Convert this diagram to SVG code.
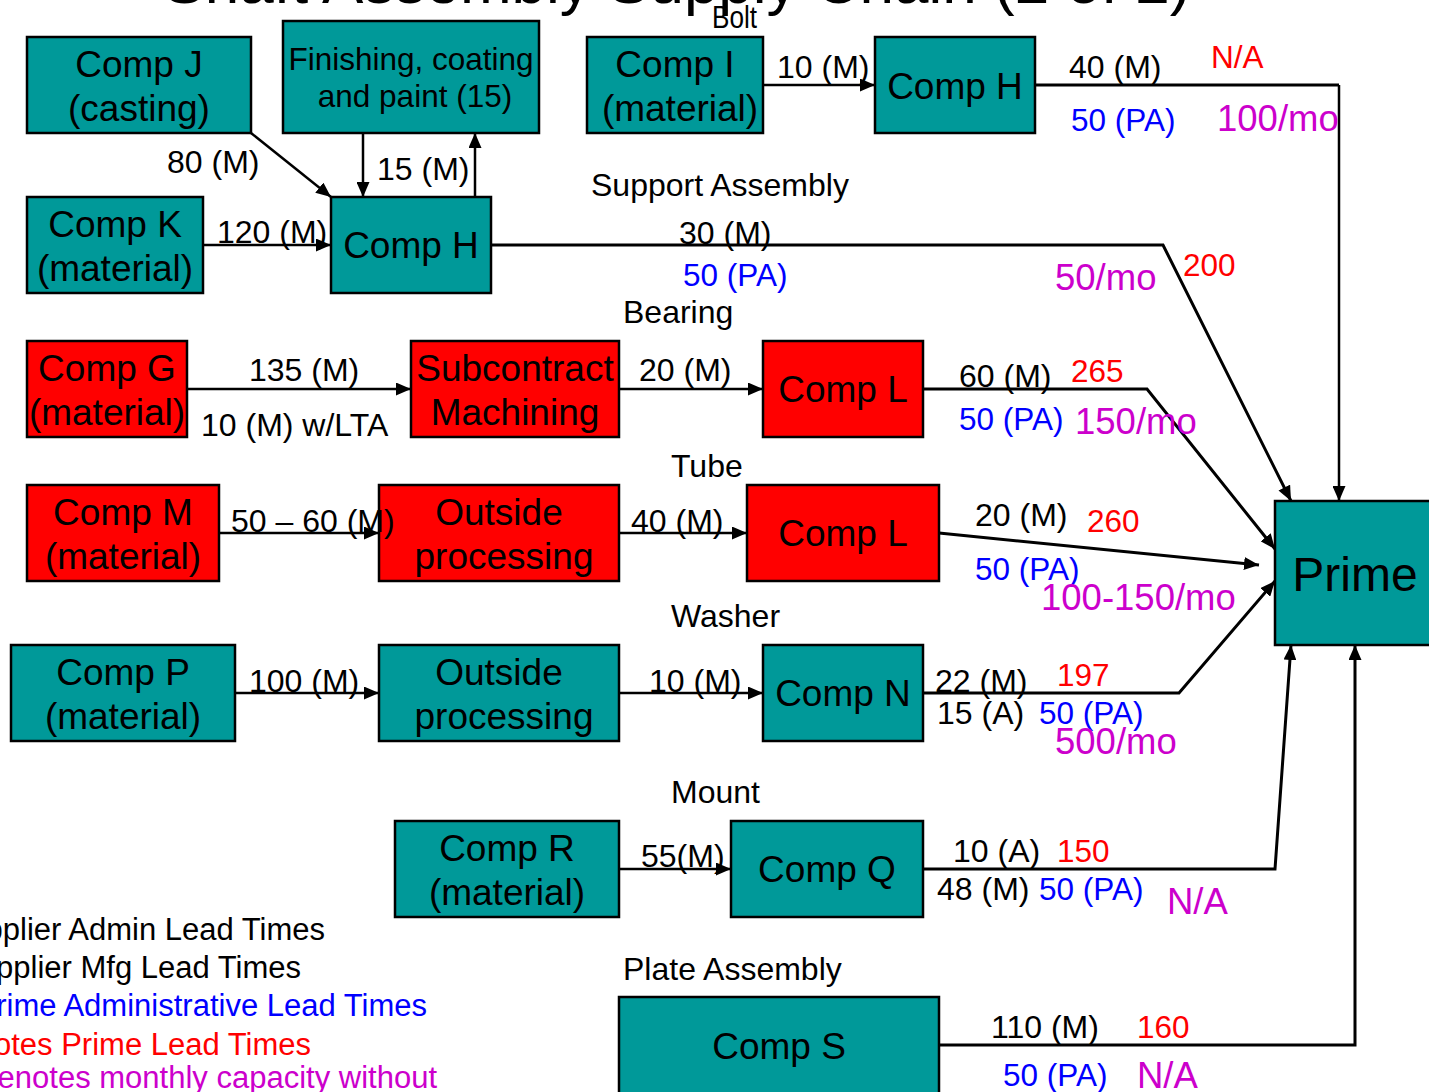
<svg xmlns="http://www.w3.org/2000/svg" width="1429" height="1092" viewBox="0 0 1429 1092">
  <defs>
    <marker id="arrow" viewBox="0 0 15 13" refX="15" refY="6.5" markerWidth="15" markerHeight="13" markerUnits="userSpaceOnUse" orient="auto">
      <path d="M0,0 L15,6.5 L0,13 Z" fill="#000"/>
    </marker>
    <style>
      text { font-family: "Liberation Sans", Arial, sans-serif; }
      .box-teal { fill: #009999; stroke: #000; stroke-width: 2.5; }
      .box-red { fill: #FF0000; stroke: #000; stroke-width: 2.5; }
      .node { font-size: 37px; fill: #000; text-anchor: middle; }
      .small-node { font-size: 31.5px; fill: #000; text-anchor: middle; }
      .prime { font-size: 48px; fill: #000; text-anchor: middle; }
      .group { font-size: 32px; fill: #000; }
      .lbl { font-size: 32px; fill: #000; }
      .pa { font-size: 31.5px; fill: #0000FF; }
      .lead { font-size: 31.5px; fill: #FF0000; }
      .cap { font-size: 36.5px; fill: #CC00CC; }
      .edge { fill: none; stroke: #000; stroke-width: 2.5; }
      .edge-bold { fill: none; stroke: #000; stroke-width: 3; }
      .arr { marker-end: url(#arrow); }
    </style>
  </defs>

  <!-- page title -->
  <text x="677" y="3" font-size="62" text-anchor="middle" fill="#000">Shaft Assembly Supply Chain (2 of 2)</text>

  <!-- sub-assembly headings -->
  <g id="headings">
    <text class="group" x="712" y="28" font-size="28" textLength="45" lengthAdjust="spacingAndGlyphs">Bolt</text>
    <text class="group" x="591" y="196">Support Assembly</text>
    <text class="group" x="623" y="323">Bearing</text>
    <text class="group" x="671" y="477">Tube</text>
    <text class="group" x="671" y="627">Washer</text>
    <text class="group" x="671" y="803">Mount</text>
    <text class="group" x="623" y="980">Plate Assembly</text>
  </g>

  <!-- connectors -->
  <g id="connectors">
    <line class="edge arr" x1="251" y1="133" x2="331" y2="197"/>
    <line class="edge arr" x1="363" y1="133" x2="363" y2="197"/>
    <line class="edge arr" x1="475" y1="197" x2="475" y2="133"/>
    <line class="edge arr" x1="203" y1="245" x2="331" y2="245"/>
    <line class="edge arr" x1="763" y1="85" x2="875" y2="85"/>
    <polyline class="edge-bold" points="1035,85 1339,85"/>
    <line class="edge arr" x1="1339" y1="85" x2="1339" y2="501"/>
    <polyline class="edge-bold arr" points="491,245 1163,245 1291,501"/>
    <line class="edge arr" x1="187" y1="389" x2="411" y2="389"/>
    <line class="edge arr" x1="619" y1="389" x2="763" y2="389"/>
    <polyline class="edge-bold arr" points="923,389 1147,389 1275,549"/>
    <line class="edge arr" x1="219" y1="533" x2="379" y2="533"/>
    <line class="edge arr" x1="619" y1="533" x2="747" y2="533"/>
    <line class="edge-bold arr" x1="939" y1="533" x2="1259" y2="565"/>
    <line class="edge arr" x1="235" y1="693" x2="379" y2="693"/>
    <line class="edge arr" x1="619" y1="693" x2="763" y2="693"/>
    <polyline class="edge-bold arr" points="923,693 1179,693 1275,581"/>
    <line class="edge arr" x1="619" y1="869" x2="731" y2="869"/>
    <polyline class="edge-bold arr" points="923,869 1275,869 1291,645"/>
    <polyline class="edge-bold arr" points="939,1045 1355,1045 1355,645"/>
  </g>

  <!-- nodes -->
  <g id="comp-j">
    <rect class="box-teal" x="27" y="37" width="224" height="96"/>
    <text class="node" x="139" y="77">Comp J</text>
    <text class="node" x="139" y="121">(casting)</text>
  </g>
  <g id="finishing">
    <rect class="box-teal" x="283" y="21" width="256" height="112"/>
    <text class="small-node" x="411" y="70">Finishing, coating</text>
    <text class="small-node" x="415" y="107">and paint (15)</text>
  </g>
  <g id="comp-k">
    <rect class="box-teal" x="27" y="197" width="176" height="96"/>
    <text class="node" x="115" y="237">Comp K</text>
    <text class="node" x="115" y="281">(material)</text>
  </g>
  <g id="comp-h-support">
    <rect class="box-teal" x="331" y="197" width="160" height="96"/>
    <text class="node" x="411" y="258">Comp H</text>
  </g>
  <g id="comp-i">
    <rect class="box-teal" x="587" y="37" width="176" height="96"/>
    <text class="node" x="675" y="77">Comp I</text>
    <text class="node" x="680" y="121">(material)</text>
  </g>
  <g id="comp-h-bolt">
    <rect class="box-teal" x="875" y="37" width="160" height="96"/>
    <text class="node" x="955" y="99">Comp H</text>
  </g>
  <g id="prime">
    <rect class="box-teal" x="1275" y="501" width="160" height="144"/>
    <text class="prime" x="1355" y="591">Prime</text>
  </g>
  <g id="comp-g">
    <rect class="box-red" x="27" y="341" width="160" height="96"/>
    <text class="node" x="107" y="381">Comp G</text>
    <text class="node" x="107" y="425">(material)</text>
  </g>
  <g id="subcontract">
    <rect class="box-red" x="411" y="341" width="208" height="96"/>
    <text class="node" x="515" y="381">Subcontract</text>
    <text class="node" x="515" y="425">Machining</text>
  </g>
  <g id="comp-l-bearing">
    <rect class="box-red" x="763" y="341" width="160" height="96"/>
    <text class="node" x="843" y="402">Comp L</text>
  </g>
  <g id="comp-m">
    <rect class="box-red" x="27" y="485" width="192" height="96"/>
    <text class="node" x="123" y="525">Comp M</text>
    <text class="node" x="123" y="569">(material)</text>
  </g>
  <g id="outside-tube">
    <rect class="box-red" x="379" y="485" width="240" height="96"/>
    <text class="node" x="499" y="525">Outside</text>
    <text class="node" x="504" y="569">processing</text>
  </g>
  <g id="comp-l-tube">
    <rect class="box-red" x="747" y="485" width="192" height="96"/>
    <text class="node" x="843" y="546">Comp L</text>
  </g>
  <g id="comp-p">
    <rect class="box-teal" x="11" y="645" width="224" height="96"/>
    <text class="node" x="123" y="685">Comp P</text>
    <text class="node" x="123" y="729">(material)</text>
  </g>
  <g id="outside-washer">
    <rect class="box-teal" x="379" y="645" width="240" height="96"/>
    <text class="node" x="499" y="685">Outside</text>
    <text class="node" x="504" y="729">processing</text>
  </g>
  <g id="comp-n">
    <rect class="box-teal" x="763" y="645" width="160" height="96"/>
    <text class="node" x="843" y="706">Comp N</text>
  </g>
  <g id="comp-r">
    <rect class="box-teal" x="395" y="821" width="224" height="96"/>
    <text class="node" x="507" y="861">Comp R</text>
    <text class="node" x="507" y="905">(material)</text>
  </g>
  <g id="comp-q">
    <rect class="box-teal" x="731" y="821" width="192" height="96"/>
    <text class="node" x="827" y="882">Comp Q</text>
  </g>
  <g id="comp-s">
    <rect class="box-teal" x="619" y="997" width="320" height="110"/>
    <text class="node" x="779" y="1059">Comp S</text>
  </g>

  <!-- lead-time and capacity labels -->
  <g id="labels">
    <text class="lbl" x="167" y="173">80 (M)</text>
    <text class="lbl" x="377" y="180">15 (M)</text>
    <text class="lbl" x="217" y="243">120 (M)</text>

    <text class="lbl" x="777" y="78">10 (M)</text>
    <text class="lbl" x="1069" y="78">40 (M)</text>
    <text class="pa" x="1071" y="131">50 (PA)</text>
    <text class="lead" x="1211" y="68">N/A</text>
    <text class="cap" x="1217" y="131">100/mo</text>

    <text class="lbl" x="679" y="244">30 (M)</text>
    <text class="pa" x="683" y="286">50 (PA)</text>
    <text class="cap" x="1055" y="290">50/mo</text>
    <text class="lead" x="1183" y="276">200</text>

    <text class="lbl" x="249" y="381">135 (M)</text>
    <text class="lbl" x="201" y="436">10 (M) w/LTA</text>
    <text class="lbl" x="639" y="381">20 (M)</text>
    <text class="lbl" x="959" y="387">60 (M)</text>
    <text class="lead" x="1071" y="382">265</text>
    <text class="pa" x="959" y="430">50 (PA)</text>
    <text class="cap" x="1075" y="434">150/mo</text>

    <text class="lbl" x="231" y="532">50 – 60  (M)</text>
    <text class="lbl" x="631" y="532">40 (M)</text>
    <text class="lbl" x="975" y="526">20 (M)</text>
    <text class="lead" x="1087" y="532">260</text>
    <text class="pa" x="975" y="580">50 (PA)</text>
    <text class="cap" x="1041" y="610">100-150/mo</text>

    <text class="lbl" x="249" y="692">100 (M)</text>
    <text class="lbl" x="649" y="692">10 (M)</text>
    <text class="lbl" x="935" y="692">22 (M)</text>
    <text class="lead" x="1057" y="686">197</text>
    <text class="lbl" x="937" y="724">15 (A)</text>
    <text class="pa" x="1039" y="724">50 (PA)</text>
    <text class="cap" x="1055" y="754">500/mo</text>

    <text class="lbl" x="641" y="867">55(M)</text>
    <text class="lbl" x="953" y="862">10 (A)</text>
    <text class="lead" x="1057" y="862">150</text>
    <text class="lbl" x="937" y="900">48 (M)</text>
    <text class="pa" x="1039" y="900">50 (PA)</text>
    <text class="cap" x="1167" y="914">N/A</text>

    <text class="lbl" x="991" y="1038">110 (M)</text>
    <text class="lead" x="1137" y="1038">160</text>
    <text class="pa" x="1003" y="1086">50 (PA)</text>
    <text class="cap" x="1137" y="1088">N/A</text>
  </g>

  <!-- key -->
  <g id="key" font-size="31" text-anchor="end">
    <text x="325" y="940" fill="#000">Supplier Admin Lead Times</text>
    <text x="301" y="978" fill="#000">Supplier Mfg Lead Times</text>
    <text x="427" y="1016" fill="#0000FF">Prime Administrative Lead Times</text>
    <text x="311" y="1055" fill="#FF0000">Denotes Prime Lead Times</text>
    <text x="437" y="1088" fill="#CC00CC">Denotes monthly capacity without</text>
  </g>
</svg>
